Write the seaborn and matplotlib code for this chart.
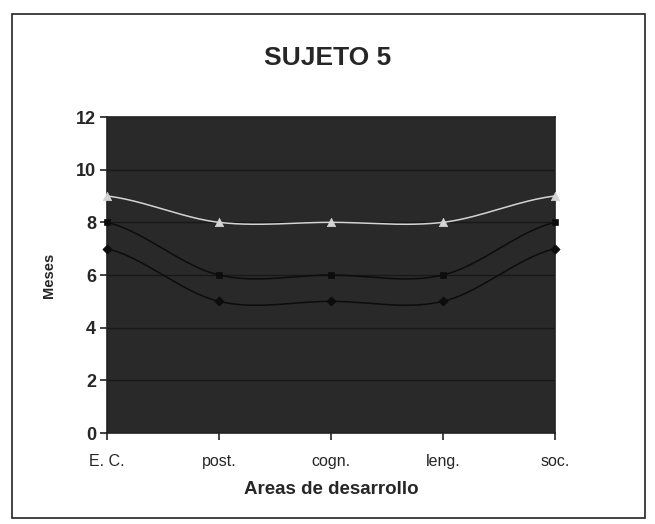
import numpy as np
import pandas as pd
import matplotlib
matplotlib.use("Agg")
import matplotlib.pyplot as plt
import seaborn as sns
from matplotlib.patches import Rectangle

categories = ["E. C.", "post.", "cogn.", "leng.", "soc."]
serie_tri = [9, 8, 8, 8, 9]
serie_sq = [8, 6, 6, 6, 8]
serie_dia = [7, 5, 5, 5, 7]
y_ticks = [0, 2, 4, 6, 8, 10, 12]

sns.set_theme(style="white")
plt.rcParams['font.family'] = ['Liberation Sans', 'DejaVu Sans']

fig = plt.figure(figsize=(6.55, 5.24), dpi=100)
ax = fig.add_axes([107/655, 1-433/524, 448/655, 316/524])
ax.set_facecolor("#292929")

def smooth(vals, n=40):
    # Catmull-Rom style smoothing for display of the line (Excel "smoothed line")
    p = np.array(vals, dtype=float)
    x = np.arange(len(p), dtype=float)
    xs, ys = [], []
    for i in range(len(p) - 1):
        p0 = p[i-1] if i > 0 else p[i]
        p1, p2 = p[i], p[i+1]
        p3 = p[i+2] if i + 2 < len(p) else p[i+1]
        t = np.linspace(0, 1, n, endpoint=False)
        y = 0.5*((2*p1) + (-p0+p2)*t + (2*p0-5*p1+4*p2-p3)*t**2 + (-p0+3*p1-3*p2+p3)*t**3)
        xs.append(x[i] + t); ys.append(y)
    xs.append([x[-1]]); ys.append([p[-1]])
    return np.concatenate(xs), np.concatenate(ys)

series = [
    (serie_tri, "#d4d4d4", "^", 1.1, 36),
    (serie_sq, "#0c0c0c", "s", 1.1, 24),
    (serie_dia, "#0c0c0c", "D", 1.1, 22),
]
for vals, col, mk, lw, sz in series:
    xs, ys = smooth(vals)
    sns.lineplot(x=xs, y=ys, ax=ax, color=col, lw=lw, sort=False, estimator=None, zorder=3)
    df = pd.DataFrame({"x": np.arange(len(vals)), "y": vals})
    sns.scatterplot(data=df, x="x", y="y", ax=ax, color=col, marker=mk, s=sz,
                    edgecolor=col, linewidth=0.5, zorder=4, clip_on=False)

ax.set_xlim(0, len(categories) - 1)
ax.set_ylim(0, 12)
ax.set_yticks(y_ticks)
ax.set_yticklabels([str(v) for v in y_ticks], fontsize=13, fontweight="bold")
ax.set_xticks(range(len(categories)))
ax.set_xticklabels(categories, fontsize=11.5)
for yv in y_ticks[1:-1]:
    ax.axhline(yv, color="#181818", lw=1.0, zorder=1)
ax.tick_params(axis="both", direction="out", length=5, width=1.2, color="#222222", pad=3, left=True, bottom=True)
ax.tick_params(axis="x", pad=10)
for s in ax.spines.values():
    s.set_color("#222222"); s.set_linewidth(1.2)

ax.set_xlabel("Areas de desarrollo", fontsize=13.5, fontweight="bold", labelpad=9)
ax.set_ylabel("Meses", fontsize=10.5, fontweight="bold", labelpad=14)
fig.text(0.5, 1-58/524, "SUJETO 5", ha="center", va="center", fontsize=19, fontweight="heavy")

fig.add_artist(Rectangle((12/655, 1-518/524), 633/655, 504/524, transform=fig.transFigure,
                         fill=False, edgecolor="#222222", lw=1.2))

fig.savefig("out.png", dpi=100)
